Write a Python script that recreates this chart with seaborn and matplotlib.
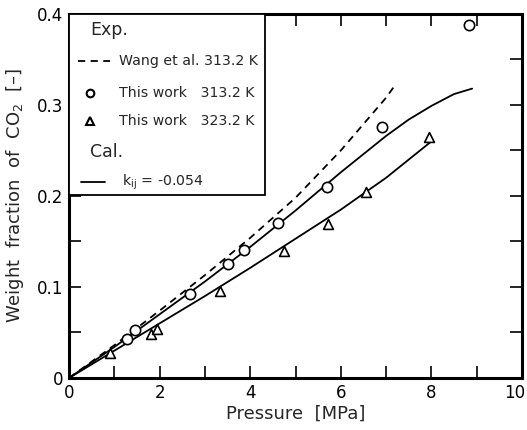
import numpy as np
import pandas as pd
import seaborn as sns
import matplotlib.pyplot as plt
from matplotlib.patches import Rectangle
from matplotlib.ticker import MultipleLocator, FuncFormatter
from matplotlib.transforms import ScaledTranslation

# experimental points, this work
p_313 = [1.27, 1.46, 2.66, 3.50, 3.87, 4.62, 5.70, 6.92, 8.84]
w_313 = [0.043, 0.053, 0.092, 0.125, 0.141, 0.170, 0.210, 0.276, 0.388]
p_323 = [0.91, 1.80, 1.94, 3.33, 4.75, 5.72, 6.55, 7.95]
w_323 = [0.027, 0.048, 0.054, 0.096, 0.140, 0.169, 0.204, 0.265]

# Wang et al. 313.2 K (dashed)
p_wang = [0, 1, 2, 3, 4, 5, 6, 7, 7.2]
w_wang = [0, 0.036, 0.074, 0.113, 0.154, 0.198, 0.250, 0.308, 0.322]

# calculated, kij = -0.054
p_cal313 = [0, 1, 2, 3, 4, 5, 6, 7, 7.5, 8, 8.5, 8.9]
w_cal313 = [0, 0.034, 0.070, 0.106, 0.144, 0.184, 0.226, 0.266, 0.284, 0.299, 0.312, 0.318]
p_cal323 = [0, 1, 2, 3, 4, 5, 6, 7, 8]
w_cal323 = [0, 0.030, 0.060, 0.090, 0.121, 0.153, 0.185, 0.220, 0.260]

x_ticks = [0, 2, 4, 6, 8, 10]

sns.set_theme(style='ticks')
plt.rcParams['font.family'] = ['DejaVu Sans']

fig = plt.figure(figsize=(5.27, 4.3), dpi=100)
ax = fig.add_axes([0.131, 0.121, 0.8595, 0.8465])

lw = 1.3
sns.lineplot(x=p_wang, y=w_wang, ax=ax, color='black', lw=lw, linestyle=(0, (4, 3)), estimator=None)
sns.lineplot(x=p_cal313, y=w_cal313, ax=ax, color='black', lw=lw, estimator=None)
sns.lineplot(x=p_cal323, y=w_cal323, ax=ax, color='black', lw=lw, estimator=None)
sns.scatterplot(x=p_313, y=w_313, ax=ax, marker='o', s=55, facecolor='white',
                edgecolor='black', linewidth=1.2, zorder=5)
sns.scatterplot(x=p_323, y=w_323, ax=ax, marker='^', s=50, facecolor='white',
                edgecolor='black', linewidth=1.2, zorder=5)

ax.set_xlim(0, 10)
ax.set_ylim(0, 0.4)
ax.set_xticks(x_ticks)
ax.xaxis.set_minor_locator(MultipleLocator(1))
ax.yaxis.set_major_locator(MultipleLocator(0.1))
ax.yaxis.set_minor_locator(MultipleLocator(0.05))
ax.yaxis.set_major_formatter(FuncFormatter(lambda v, _: '0' if v == 0 else f'{v:.1f}'))
ax.tick_params(which='both', direction='in', top=True, right=True, length=8.5, width=1.2,
               labelsize=12, colors='black', pad=4)
for s in ax.spines.values():
    s.set_linewidth(2.2)
    s.set_color('black')

# keep the "10" label inside the figure
last = ax.xaxis.get_major_ticks()[-1].label1
last.set_transform(last.get_transform() + ScaledTranslation(-0.07, 0, fig.dpi_scale_trans))

ax.set_xlabel('Pressure  [MPa]', fontsize=13, labelpad=2)
ax.set_ylabel('Weight  fraction  of  CO$_2$  [–]', fontsize=13, labelpad=8)

# legend box
ax.add_patch(Rectangle((0, 0.503), 0.433, 0.497, transform=ax.transAxes, facecolor='white',
                       edgecolor='black', lw=1.3, zorder=8))
fs = 10.2
ax.text(0.046, 0.956, 'Exp.', transform=ax.transAxes, fontsize=12.5, va='center', zorder=9)
ax.plot([0.02, 0.09], [0.871, 0.871], transform=ax.transAxes, color='black', lw=lw,
        linestyle=(0, (4, 3)), zorder=9)
ax.text(0.110, 0.871, 'Wang et al. 313.2 K', transform=ax.transAxes, fontsize=fs, va='center', zorder=9)
ax.plot([0.046], [0.783], transform=ax.transAxes, marker='o', ms=5.5, mfc='white', mec='black',
        mew=1.5, zorder=9)
ax.text(0.110, 0.783, 'This work   313.2 K', transform=ax.transAxes, fontsize=fs, va='center', zorder=9)
ax.plot([0.046], [0.706], transform=ax.transAxes, marker='^', ms=5.5, mfc='white', mec='black',
        mew=1.5, zorder=9)
ax.text(0.110, 0.706, 'This work   323.2 K', transform=ax.transAxes, fontsize=fs, va='center', zorder=9)
ax.text(0.046, 0.621, 'Cal.', transform=ax.transAxes, fontsize=12.5, va='center', zorder=9)
ax.plot([0.026, 0.08], [0.538, 0.538], transform=ax.transAxes, color='black', lw=lw, zorder=9)
ax.text(0.117, 0.538, '$\\mathregular{k_{ij}}$ = -0.054', transform=ax.transAxes, fontsize=fs,
        va='center', zorder=9)

fig.savefig('out.png', dpi=100)
